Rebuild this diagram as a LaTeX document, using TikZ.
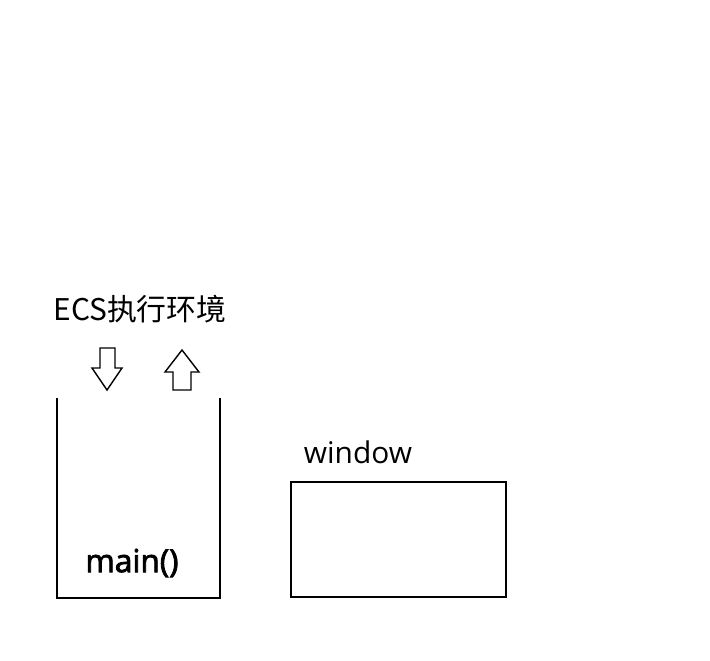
\documentclass[tikz,border=0pt]{standalone}
\usepackage{fontspec}
\setmainfont{Open Sans}
\newfontfamily\cjkfont{Noto Sans CJK SC}
\newfontfamily\semibold[FakeBold=2.5]{Open Sans}

\begin{document}
\begin{tikzpicture}[
    x = .02cm,
    y = -.02cm,
    font = \fontsize{17}{20}\selectfont,
    blockarrow/.style = {
      draw,
      thick,
      line join=miter
    },
    frame/.style = {
      draw,
      thick
    }
  ]
    \useasboundingbox (0,0) rectangle (710,660);

    \node (env) at (140,309) {\cjkfont ECS执行环境};

    % hollow arrows in and out of the stack
    \coordinate (down) at (107,390);
    \coordinate (up) at (182,350);
    \draw[blockarrow] (down) -- ++(-15,-22) -- ++(8,0) -- ++(0,-20)
      -- ++(15,0) -- ++(0,20) -- ++(7,0) -- cycle;
    \draw[blockarrow] (up) -- ++(-17,22) -- ++(8,0) -- ++(0,18)
      -- ++(18,0) -- ++(0,-18) -- ++(8,0) -- cycle;

    % stack, open at the top
    \coordinate (stl) at (57,398);
    \coordinate (str) at (220,398);
    \draw[frame] (stl) -- (57,598) -- (220,598) -- (str);
    \node (main) at (132,563) {\fontsize{18}{21}\semibold main()};

    \node (winlabel) at (358,452) {window};
    \node[frame, minimum width=4.3cm, minimum height=2.3cm] (win) at (398.5,539.5) {};

  \end{tikzpicture}
\end{document}
